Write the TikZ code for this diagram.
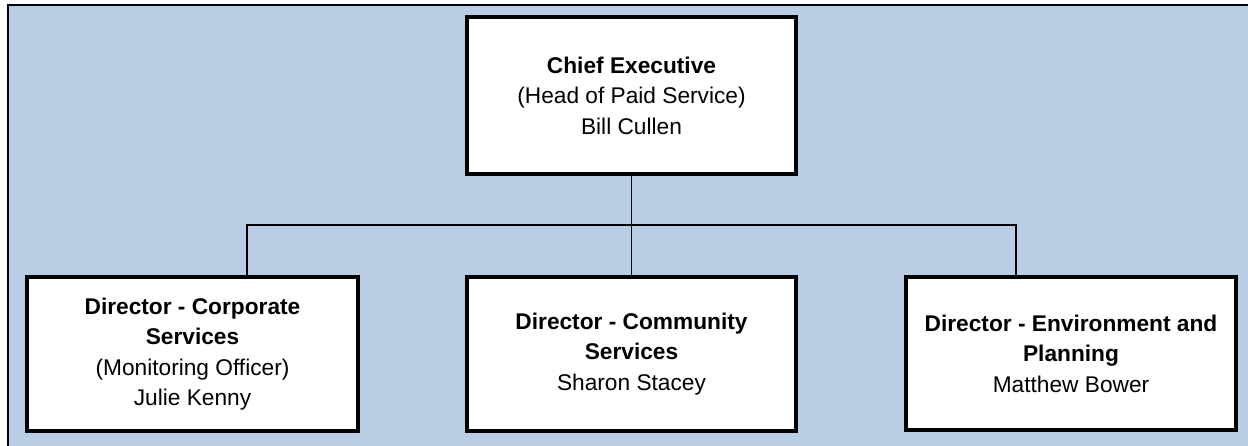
\documentclass[tikz,border=0pt]{standalone}
\usepackage{fontspec}
\setmainfont{Liberation Sans}
\definecolor{bgblue}{HTML}{B9CDE5}
\begin{document}
\begin{tikzpicture}[x=1pt,y=-1pt,
  orgbox/.style={draw=black, line width=4pt, fill=white, inner sep=0pt, outer sep=0pt,
    align=center, font=\fontsize{22.7}{30.5}\selectfont},
  link/.style={draw=black, line width=1.5pt}]
\useasboundingbox (0,0) rectangle (1248,445);
\fill[bgblue] (8,5) rectangle (1270,470);
\draw[line width=2.5pt] (8,470) -- (8,5) -- (1270,5);

\node[orgbox, minimum width=329pt, minimum height=157pt] (chief) at (631.5,95.5)
  {\textbf{Chief Executive}\\(Head of Paid Service)\\Bill Cullen};
\node[orgbox, minimum width=331pt, minimum height=154pt] (left) at (192.5,354)
  {\textbf{Director - Corporate}\\\textbf{Services}\\(Monitoring Officer)\\Julie Kenny};
\node[orgbox, minimum width=329pt, minimum height=154pt] (middle) at (631.5,354)
  {\textbf{Director - Community}\\\textbf{Services}\\Sharon Stacey};
\node[orgbox, minimum width=330pt, minimum height=153pt] (right) at (1071,353.5)
  {\textbf{Director - Environment and}\\\textbf{Planning}\\Matthew Bower};

\coordinate (jl) at (247,225);
\coordinate (jr) at (1016,225);
\begin{scope}[on background layer/.try]
\end{scope}
\draw[link] (chief.south) -- (middle.north);
\draw[link] (jl |- left.north) -- (jl) -- (jr) -- (jr |- right.north);
\end{tikzpicture}
\end{document}
